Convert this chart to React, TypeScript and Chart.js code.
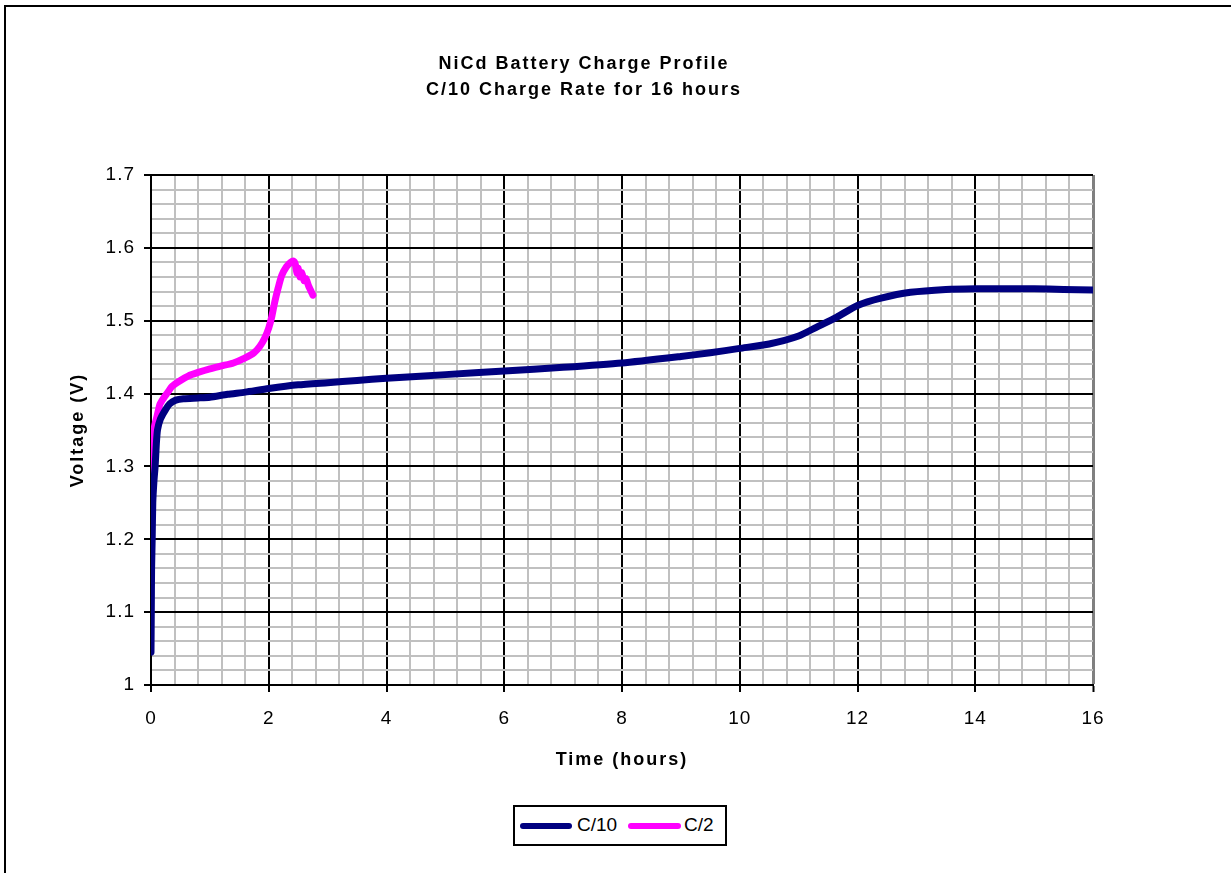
import React, { useEffect, useRef } from "react";
import { Chart, registerables } from "chart.js";

Chart.register(...registerables);

// ---- Data ----
const titleLines = ["NiCd Battery Charge Profile", "C/10 Charge Rate for 16 hours"];
const xAxisTitle = "Time (hours)";
const yAxisTitle = "Voltage (V)";
const seriesNames = ["C/10", "C/2"];
const seriesColors = ["#000080", "#ff00ff"];

const c10Hours = [
  0, 0.005, 0.01, 0.02, 0.03, 0.05, 0.07, 0.09, 0.11, 0.16, 0.24, 0.32, 0.42, 0.55, 0.8, 1.0,
  1.3, 1.6, 2.0, 2.5, 3.0, 3.5, 4.0, 5.0, 6.0, 7.0, 8.0, 9.0, 9.5, 10.0, 10.5, 11.0, 11.3,
  11.65, 12.0, 12.4, 12.9, 13.5, 14.0, 14.5, 15.0, 15.5, 16.0,
];
const c10Volts = [
  1.045, 1.1, 1.16, 1.2, 1.25, 1.28, 1.3, 1.33, 1.35, 1.365, 1.377, 1.386, 1.391, 1.393, 1.394,
  1.395, 1.399, 1.402, 1.407, 1.412, 1.415, 1.418, 1.421, 1.426, 1.431, 1.436, 1.442, 1.451,
  1.456, 1.462, 1.468, 1.479, 1.491, 1.505, 1.521, 1.531, 1.539, 1.543, 1.544, 1.544, 1.544,
  1.543, 1.542,
];

const c2Hours = [
  0.005, 0.01, 0.02, 0.03, 0.06, 0.1, 0.15, 0.2, 0.27, 0.36, 0.5, 0.63, 0.8, 1.0, 1.2, 1.4,
  1.6, 1.75, 1.85, 1.93, 2.0, 2.05, 2.1, 2.16, 2.22, 2.3, 2.37, 2.42, 2.45, 2.48, 2.5, 2.53,
  2.56, 2.6, 2.63, 2.68, 2.75,
];
const c2Volts = [
  1.205, 1.26, 1.31, 1.336, 1.355, 1.368, 1.385, 1.392, 1.4, 1.41, 1.418, 1.424, 1.429, 1.434,
  1.438, 1.442, 1.449, 1.456, 1.465, 1.476, 1.49, 1.505, 1.525, 1.545, 1.562, 1.574, 1.58,
  1.582, 1.578, 1.565, 1.572, 1.56, 1.566, 1.555, 1.558, 1.547, 1.535,
];

const xMin = 0;
const xMax = 16;
const xMajorStep = 2;
const xMinorStep = 0.4;
const yMin = 1;
const yMax = 1.7;
const yMajorStep = 0.1;
const yMinorStep = 0.02;

const FONT = '"Liberation Sans", Arial, Helvetica, sans-serif';

const isMultiple = (v: number, step: number) =>
  Math.abs(v / step - Math.round(v / step)) < 1e-6;

const spacingPlugin = {
  id: "letterSpacingPlugin",
  beforeDraw(chart: any) {
    (chart.ctx as any).letterSpacing = "2px";
  },
  afterDatasetsDraw(chart: any) {
    (chart.ctx as any).letterSpacing = "1px";
  },
  afterDraw(chart: any) {
    (chart.ctx as any).letterSpacing = "0px";
  },
};

export default function App() {
  const canvasRef = useRef<HTMLCanvasElement | null>(null);

  useEffect(() => {
    const canvas = canvasRef.current;
    if (!canvas) return;
    const series = [
      { hours: c10Hours, volts: c10Volts },
      { hours: c2Hours, volts: c2Volts },
    ];
    const chart = new Chart(canvas, {
      type: "scatter",
      data: {
        datasets: series.map((s, i) => ({
          label: seriesNames[i],
          data: s.hours.map((h, j) => ({ x: h, y: s.volts[j] })),
          borderColor: seriesColors[i],
          backgroundColor: seriesColors[i],
          borderWidth: 7,
          pointRadius: 0,
          showLine: true,
          fill: false,
          tension: 0.2,
          borderCapStyle: "round",
          borderJoinStyle: "round",
        })),
      },
      plugins: [spacingPlugin],
      options: {
        responsive: false,
        animation: false,
        devicePixelRatio: 1,
        layout: { padding: { left: 75, right: 138, top: 0, bottom: 0 } },
        plugins: {
          legend: { display: false },
          tooltip: { enabled: false },
          title: {
            display: true,
            text: titleLines,
            color: "#000",
            font: { family: FONT, size: 18, weight: "bold", lineHeight: 26 / 18 },
            padding: { top: 51, bottom: 72 },
          },
        },
        scales: {
          x: {
            type: "linear",
            min: xMin,
            max: xMax,
            afterFit: (s: any) => {
              s.height = 188;
            },
            ticks: {
              stepSize: xMinorStep,
              autoSkip: false,
              maxRotation: 0,
              minRotation: 0,
              padding: 15,
              color: "#000",
              z: 1,
              font: { family: FONT, size: 19 },
              callback: (v: any) => (isMultiple(Number(v), xMajorStep) ? String(Math.round(Number(v))) : ""),
            },
            grid: {
              color: (c: any) => {
                const v = c.tick ? c.tick.value : 0;
                if (Math.abs(v - xMax) < 1e-6) return "#808080";
                return isMultiple(v, xMajorStep) ? "#000000" : "#c0c0c0";
              },
              lineWidth: (c: any) => {
                const v = c.tick ? c.tick.value : 0;
                if (Math.abs(v - xMax) < 1e-6) return 3;
                return 2;
              },
              tickColor: (c: any) => {
                const v = c.tick ? c.tick.value : 0;
                return isMultiple(v, xMajorStep) ? "#000000" : "rgba(0,0,0,0)";
              },
              tickWidth: 2,
              tickLength: 7,
              drawTicks: true,
            },
            border: { display: true, color: "#000", width: 2 },
            title: {
              display: true,
              text: xAxisTitle,
              color: "#000",
              font: { family: FONT, size: 18, weight: "bold", lineHeight: 1.2 },
              padding: { top: 0, bottom: 102 },
            },
          },
          y: {
            type: "linear",
            min: yMin,
            max: yMax,
            afterFit: (s: any) => {
              s.width = 76;
            },
            ticks: {
              stepSize: yMinorStep,
              autoSkip: false,
              padding: 9,
              color: "#000",
              z: 1,
              font: { family: FONT, size: 19 },
              callback: (v: any) =>
                isMultiple(Number(v), yMajorStep) ? String(Math.round(Number(v) * 10) / 10) : "",
            },
            grid: {
              color: (c: any) => {
                const v = c.tick ? c.tick.value : 0;
                return isMultiple(v, yMajorStep) ? "#000000" : "#c0c0c0";
              },
              lineWidth: 2,
              tickColor: (c: any) => {
                const v = c.tick ? c.tick.value : 0;
                return isMultiple(v, yMajorStep) ? "#000000" : "rgba(0,0,0,0)";
              },
              tickWidth: 2,
              tickLength: 7,
              drawTicks: true,
            },
            border: { display: true, color: "#000", width: 2 },
            title: {
              display: true,
              text: yAxisTitle,
              color: "#000",
              font: { family: FONT, size: 18, weight: "bold", lineHeight: 1.2 },
              padding: { top: -8, bottom: 0 },
            },
          },
        },
      } as any,
    });
    return () => chart.destroy();
  }, []);

  const swatch = (left: number, width: number, color: string) => (
    <div
      style={{
        position: "absolute",
        left,
        top: 16,
        width,
        height: 6,
        background: color,
        borderRadius: 3,
      }}
    />
  );
  const label = (left: number, text: string) => (
    <div
      style={{
        position: "absolute",
        left,
        top: 7,
        fontFamily: FONT,
        fontSize: 19,
        lineHeight: "22px",
        color: "#000",
        whiteSpace: "nowrap",
      }}
    >
      {text}
    </div>
  );

  return (
    <div
      style={{
        position: "absolute",
        left: 0,
        top: 0,
        width: 1231,
        height: 873,
        overflow: "hidden",
        background: "#fff",
      }}
    >
      <div
        style={{
          position: "absolute",
          left: 4,
          top: 5,
          width: 1400,
          height: 1000,
          borderTop: "2px solid #000",
          borderLeft: "2px solid #000",
        }}
      />
      <canvas
        ref={canvasRef}
        width={1231}
        height={873}
        style={{ position: "absolute", left: 0, top: 0, width: 1231, height: 873 }}
      />
      <div
        style={{
          position: "absolute",
          left: 513,
          top: 805,
          width: 214,
          height: 41,
          boxSizing: "border-box",
          border: "2px solid #000",
          background: "#fff",
        }}
      >
        {swatch(5, 52, seriesColors[0])}
        {label(62, seriesNames[0])}
        {swatch(113, 53, seriesColors[1])}
        {label(169, seriesNames[1])}
      </div>
    </div>
  );
}
